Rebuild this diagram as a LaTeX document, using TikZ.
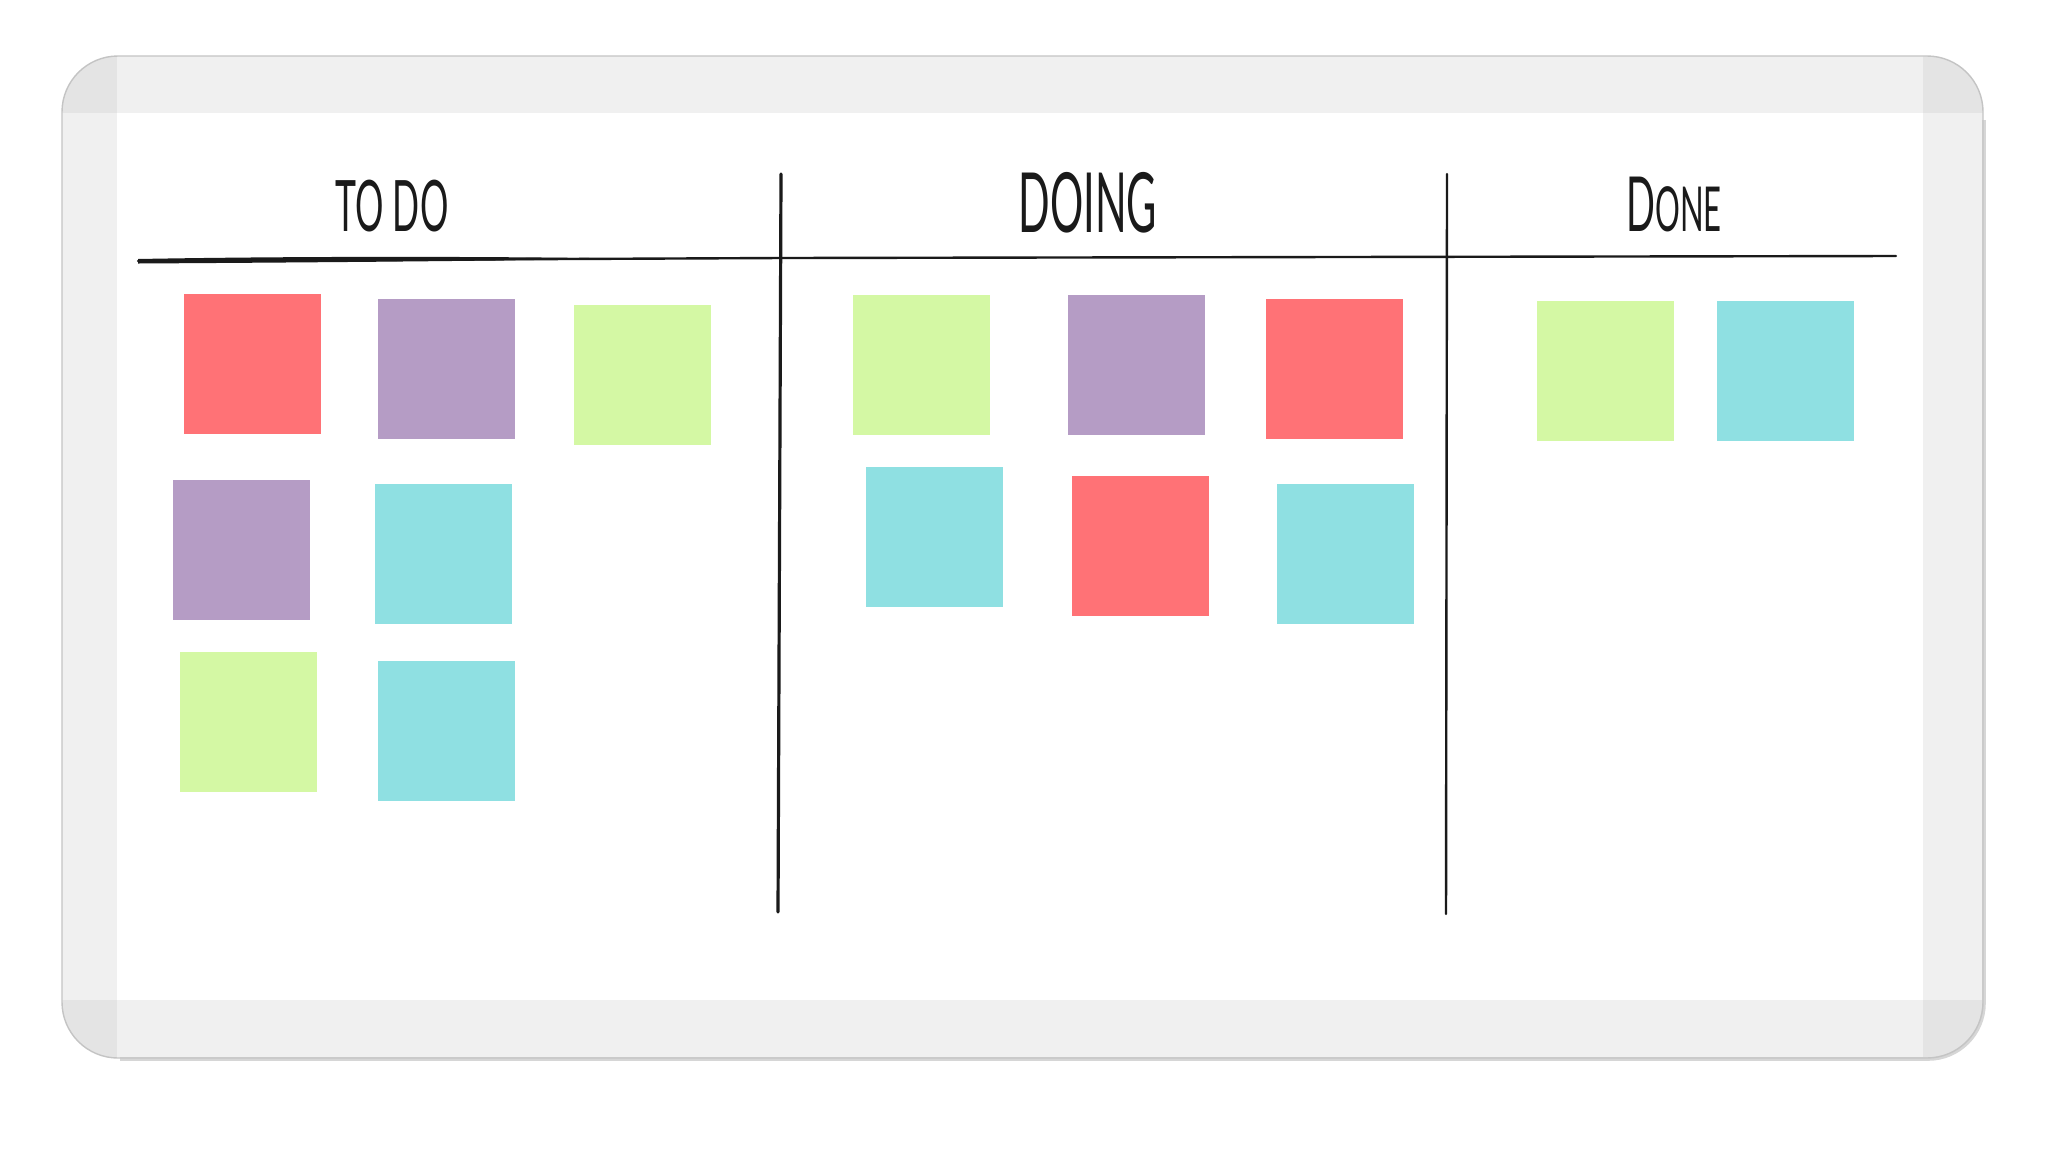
\documentclass[tikz,border=0pt]{standalone}
\usepackage{fontspec}
\newfontfamily\handfont{Lato}
\definecolor{bandgray}{HTML}{F0F0F0}
\definecolor{cornergray}{HTML}{E4E4E4}
\definecolor{edgegray}{HTML}{C4C4C4}
\definecolor{shadegray}{HTML}{D6D6D6}
\definecolor{ink}{HTML}{1A1A1A}
\definecolor{nred}{HTML}{FF7276}
\definecolor{npurple}{HTML}{B59CC5}
\definecolor{ngreen}{HTML}{D4F8A4}
\definecolor{ncyan}{HTML}{8FE0E2}
\tikzset{
  note/.style={rectangle, inner sep=0pt, minimum width=68.5pt, minimum height=70pt, draw=none},
  heading/.style={anchor=base, inner sep=0pt, text=ink, xscale=0.5, font=\handfont},
  rule/.style={draw=ink, line cap=round}
}
\begin{document}
\begin{tikzpicture}[x=0.5pt,y=-0.5pt]
\useasboundingbox (0,0) rectangle (2048,1152);
\fill[white] (0,0) rectangle (2048,1152);
% board frame
\begin{scope}
  \clip[rounded corners=28pt] (62,56) rectangle (1983,1058);
  \fill[bandgray] (62,56) rectangle (1983,1058);
  \fill[cornergray] (62,56) rectangle (117,113);
  \fill[cornergray] (1923,56) rectangle (1983,113);
  \fill[cornergray] (62,1000) rectangle (117,1058);
  \fill[cornergray] (1923,1000) rectangle (1983,1058);
\end{scope}
\fill[white] (117,113) rectangle (1923,1000);
\draw[shadegray, line width=1.8pt, rounded corners=28pt] (1984,120) -- (1984,1059) -- (120,1059);
\draw[edgegray, line width=0.7pt, rounded corners=28pt] (62,56) rectangle (1983,1058);
% headings
\node[heading, font=\handfont\fontsize{35.5pt}{36pt}\selectfont] (todo) at (392,231) {TO DO};
\node[heading, font=\handfont\fontsize{41.5pt}{42pt}\selectfont] (doing) at (1088,232) {DOING};
\node[heading, font=\handfont\fontsize{38pt}{38pt}\selectfont] (done) at (1674,231) {D{\fontsize{31pt}{31pt}\selectfont ONE}};
% rules
\draw[rule, line width=1.2pt] (138,261) -- (781,258) -- (1896,256);
\fill[ink] (138,259) .. controls (300,256) and (500,256.5) .. (625,258.5) .. controls (500,261) and (300,262.5) .. (138,263.5) -- cycle;
\draw[rule, line width=1.6pt] (781,174) -- (778,912);
\draw[rule, line width=1.2pt] (1447,174) -- (1446,914);
% TO DO notes
\node[note, fill=nred]    (t1) at (252.5,364) {};
\node[note, fill=npurple] (t2) at (446,368.5) {};
\node[note, fill=ngreen]  (t3) at (642,375) {};
\node[note, fill=npurple] (t4) at (241,550) {};
\node[note, fill=ncyan]   (t5) at (443,554) {};
\node[note, fill=ngreen]  (t6) at (248.5,722) {};
\node[note, fill=ncyan]   (t7) at (446,730.5) {};
% DOING notes
\node[note, fill=ngreen]  (d1) at (921.5,365) {};
\node[note, fill=npurple] (d2) at (1136.5,365) {};
\node[note, fill=nred]    (d3) at (1334,368.5) {};
\node[note, fill=ncyan]   (d4) at (934.5,536.5) {};
\node[note, fill=nred]    (d5) at (1140.5,546) {};
\node[note, fill=ncyan]   (d6) at (1345.5,554) {};
% DONE notes
\node[note, fill=ngreen]  (f1) at (1605.5,371) {};
\node[note, fill=ncyan]   (f2) at (1785.5,371) {};
\end{tikzpicture}
\end{document}
